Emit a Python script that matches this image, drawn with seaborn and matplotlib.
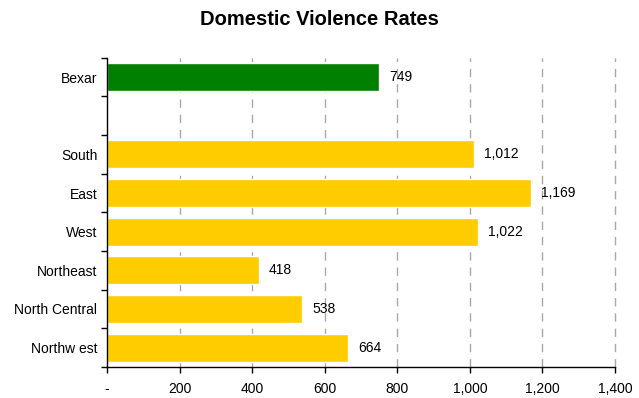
import matplotlib
matplotlib.use("Agg")
import matplotlib.pyplot as plt
import seaborn as sns
import pandas as pd
import numpy as np

sns.set_style("white")
plt.rcParams["font.family"] = ["Liberation Sans", "DejaVu Sans"]

# Rates per area; the blank slot separates the county from its regions
areas = ["Bexar", " ", "South", "East", "West", "Northeast", "North Central", "Northw est"]
rates = [749, np.nan, 1012, 1169, 1022, 418, 538, 664]
groups = ["county", "gap", "region", "region", "region", "region", "region", "region"]
x_ticks = [0, 200, 400, 600, 800, 1000, 1200, 1400]
x_tick_labels = ["-", "200", "400", "600", "800", "1,000", "1,200", "1,400"]

df = pd.DataFrame({"area": areas, "rate": rates, "group": groups})
plot_df = df.dropna()

fig = plt.figure(figsize=(6.39, 3.98), dpi=100)
ax = fig.add_axes([0.1675, 0.078, 0.795, 0.777])

sns.barplot(data=plot_df, y="area", x="rate", hue="group", order=areas,
            palette={"county": "#008000", "region": "#FFCC00"},
            width=0.73, dodge=False, legend=False, ax=ax, saturation=1)

ax.set_xlim(0, 1400)
ax.set_ylim(len(areas) - 0.5, -0.5)

# dashed vertical gridlines behind the bars
for xv in x_ticks[1:]:
    ax.axvline(xv, color="#A8A8A8", linestyle=(0, (6, 5)), linewidth=1,
               zorder=0, clip_on=False)

ax.set_xticks(x_ticks)
ax.set_xticklabels(x_tick_labels, fontsize=10, color="black")
ax.tick_params(axis="x", bottom=True, direction="out", length=4, width=1,
               color="black", pad=7)

# category labels at slot centres, tick marks at slot boundaries
ax.set_yticks(np.arange(-0.5, len(areas), 1.0))
ax.set_yticklabels([])
ax.set_yticks(np.arange(len(areas)), minor=True)
ax.set_yticklabels(areas, minor=True, fontsize=10, color="black")
ax.tick_params(axis="y", which="major", left=True, direction="out", length=4,
               width=1, color="black")
ax.tick_params(axis="y", which="minor", left=True, length=0, pad=7)

ax.set_xlabel("")
ax.set_ylabel("")
for side in ["top", "right"]:
    ax.spines[side].set_visible(False)
for side in ["left", "bottom"]:
    ax.spines[side].set_color("black")
    ax.spines[side].set_linewidth(1)

for i, v in enumerate(rates):
    if not np.isnan(v):
        ax.text(v + 28, i, f"{int(v):,}", va="center", ha="left", fontsize=10,
                color="black")

fig.suptitle("Domestic Violence Rates", fontsize=14.5, fontweight="bold",
             color="black", y=0.975)

fig.savefig("out.png", dpi=100)
